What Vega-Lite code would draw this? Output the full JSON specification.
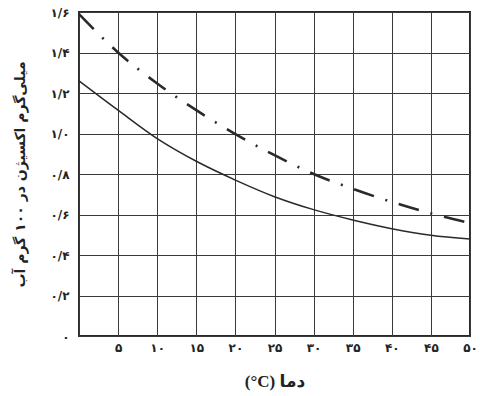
{
  "$schema": "https://vega.github.io/schema/vega-lite/v6.json",
  "width": 391,
  "height": 324,
  "autosize": {"type": "none"},
  "padding": {"left": 79, "top": 12, "right": 10, "bottom": 60},
  "background": "white",
  "config": {
    "view": {"stroke": "#2a2a2a", "strokeWidth": 2},
    "axis": {"gridColor": "#3a3a3a", "gridWidth": 1, "gridOpacity": 1, "domain": false, "ticks": false}
  },
  "data": {
    "values": [
      {"t": 0, "v": 1.26, "s": "a"},
      {"t": 5, "v": 1.115, "s": "a"},
      {"t": 10, "v": 0.975, "s": "a"},
      {"t": 15, "v": 0.863, "s": "a"},
      {"t": 20, "v": 0.77, "s": "a"},
      {"t": 25, "v": 0.688, "s": "a"},
      {"t": 30, "v": 0.624, "s": "a"},
      {"t": 35, "v": 0.573, "s": "a"},
      {"t": 40, "v": 0.53, "s": "a"},
      {"t": 45, "v": 0.498, "s": "a"},
      {"t": 50, "v": 0.479, "s": "a"},
      {"t": 0, "v": 1.59, "s": "b"},
      {"t": 5, "v": 1.4, "s": "b"},
      {"t": 10, "v": 1.247, "s": "b"},
      {"t": 15, "v": 1.115, "s": "b"},
      {"t": 20, "v": 0.997, "s": "b"},
      {"t": 25, "v": 0.893, "s": "b"},
      {"t": 30, "v": 0.8, "s": "b"},
      {"t": 35, "v": 0.727, "s": "b"},
      {"t": 40, "v": 0.662, "s": "b"},
      {"t": 45, "v": 0.605, "s": "b"},
      {"t": 50, "v": 0.558, "s": "b"}
    ]
  },
  "encoding": {
    "x": {
      "field": "t", "type": "quantitative",
      "scale": {"domain": [0, 50], "nice": false},
      "axis": {
        "values": [0, 5, 10, 15, 20, 25, 30, 35, 40, 45, 50],
        "labelExpr": "datum.value == 0 ? '' : replace(replace(replace(replace(replace(replace(datum.label,'0','۰'),'1','۱'),'2','۲'),'3','۳'),'4','۴'),'5','۵')",
        "labelFont": "DejaVu Sans", "labelFontWeight": "bold", "labelFontSize": 12, "labelColor": "#222",
        "labelPadding": 6, "labelBaseline": "top", "labelFlush": false,
        "title": "(°C) دما",
        "titleFont": "Liberation Serif, DejaVu Sans", "titleFontSize": 17, "titleFontWeight": "bold", "titleColor": "#222",
        "titleY": 45, "titleBaseline": "middle"
      }
    },
    "y": {
      "field": "v", "type": "quantitative",
      "scale": {"domain": [0, 1.6], "nice": false},
      "axis": {
        "values": [0, 0.2, 0.4, 0.6, 0.8, 1.0, 1.2, 1.4, 1.6],
        "format": ".1f",
        "labelExpr": "datum.value == 0 ? '۰' : replace(replace(replace(replace(replace(replace(replace(datum.label,'.','/'),'0','۰'),'1','۱'),'2','۲'),'4','۴'),'6','۶'),'8','۸')",
        "labelFont": "DejaVu Sans", "labelFontWeight": "bold", "labelFontSize": 12, "labelColor": "#222",
        "labelPadding": 10, "labelFlush": false,
        "title": "میلی‌گرم اکسیژن در ۱۰۰ گرم آب",
        "titleFont": "DejaVu Sans", "titleFontSize": 14, "titleFontWeight": "bold", "titleColor": "#222",
        "titleX": -59, "titleBaseline": "middle"
      }
    }
  },
  "layer": [
    {
      "transform": [{"filter": "datum.s == 'a'"}],
      "mark": {"type": "line", "interpolate": "monotone", "color": "#2a2a2a", "strokeWidth": 1.5}
    },
    {
      "transform": [{"filter": "datum.s == 'b'"}],
      "mark": {"type": "line", "interpolate": "monotone", "color": "#2a2a2a", "strokeWidth": 2.6, "strokeDash": [21, 12, 2, 12], "strokeCap": "butt"}
    }
  ]
}
